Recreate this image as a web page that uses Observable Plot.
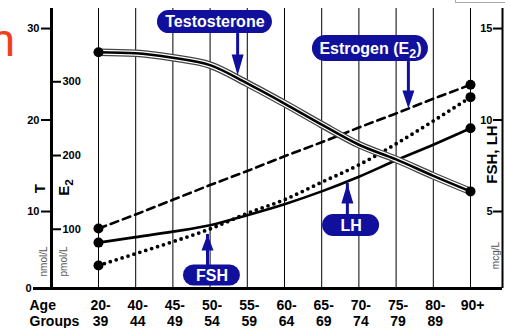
<!DOCTYPE html>
<html><head><meta charset="utf-8">
<script src="https://cdn.jsdelivr.net/npm/d3@7"></script>
<script src="https://cdn.jsdelivr.net/npm/@observablehq/plot@0.6"></script>
<style>
html,body{margin:0;padding:0;background:#fff;}
#chart{position:relative;width:505px;height:328px;overflow:hidden;background:#fff;}
#chart svg{position:absolute;left:0;top:0;}
#scrawl{position:absolute;left:-11px;top:16px;font:47px 'Liberation Sans',Arial,sans-serif;color:#f0401a;line-height:47px;}
#corner{position:absolute;left:455px;top:0;width:50px;height:2px;border-left:1px solid #aaa;border-bottom:1px solid #aaa;}
</style></head><body><div id="chart"><div id="scrawl">n</div><div id="corner"></div></div>
<script>
// ---- data ----
const ageGroups = ["20-39","40-44","45-49","50-54","55-59","60-64","65-69","70-74","75-79","80-89","90+"];
const testosterone = [27.4, 27.3, 26.8, 26.0, 24.0, 21.8, 19.5, 17.3, 15.7, 13.9, 12.2]; // nmol/L
const estrogen = [101, 120, 140, 160, 179, 199, 218, 238, 257, 277, 296];                 // pmol/L
const fsh = [2.05, 2.7, 3.35, 4.05, 4.9, 5.65, 6.6, 7.55, 8.7, 9.95, 11.25];              // mcg/L
const lh  = [3.3, 3.6, 3.9, 4.25, 4.8, 5.4, 6.1, 6.9, 7.8, 8.65, 9.55];                   // mcg/L
const tTicks = [10, 20, 30];
const e2Ticks = [100, 200, 300];
const gonTicks = [5, 10, 15];

// ---- scale conversions onto the shared (nmol/L) vertical scale ----
const E2K = 0.0806;   // pmol/L E2 -> T axis units
const GK = 2;         // mcg/L -> T axis units
const X_MIN = -1.263, X_MAX = 10.86, Y_MIN = 1.585, Y_MAX = 32.19;
const BLUE = "#10109c";
const FONT = "'Liberation Sans', Arial, Helvetica, sans-serif";
const ends = [0, ageGroups.length - 1];

const headDown = L => ({draw(ctx){ctx.moveTo(0,0);ctx.lineTo(-6,-L);ctx.lineTo(6,-L);ctx.closePath();}});
const headUp = L => ({draw(ctx){ctx.moveTo(0,0);ctx.lineTo(-6,L);ctx.lineTo(6,L);ctx.closePath();}});

const callouts = [
  {label:"Testosterone", cx:3.13, cy:30.71, w:115, h:23, ax:3.74, from:29.45, tip:24.86, head:21, dir:"down"},
  {label:"Estrogen (E₂)", cx:7.31, cy:27.81, w:116, h:26, ax:8.33, from:26.39, tip:21.26, head:18, dir:"down"},
  {label:"FSH", cx:3.05, cy:3.01, w:57, h:21, ax:2.93, from:4.10, tip:7.49, head:16, dir:"up"},
  {label:"LH", cx:6.79, cy:8.47, w:57, h:22, ax:6.69, from:9.67, tip:13.06, head:20, dir:"up"}
];

const calloutMarks = callouts.flatMap(c => [
  Plot.ruleX([c], {x:"ax", y1:"from", y2:"tip", stroke:BLUE, strokeWidth:3,
    insetBottom: c.dir === "down" ? c.head/2 : 0, insetTop: c.dir === "up" ? c.head/2 : 0}),
  Plot.dot([c], {x:"ax", y:"tip", r:5, symbol: c.dir === "down" ? headDown(c.head) : headUp(c.head), fill:BLUE, stroke:"none"}),
  Plot.rect([c], {x1:"cx", x2:"cx", y1:"cy", y2:"cy", insetLeft:-c.w/2, insetRight:-c.w/2,
    insetTop:-c.h/2, insetBottom:-c.h/2, rx:c.h/2, fill:BLUE}),
  Plot.text([c], {x:"cx", y:"cy", text:"label", fill:"white", fontSize:16, fontWeight:"bold"})
]);

const idx = (d, i) => i;
const bold = {fontWeight:"bold", fill:"black"};

const plot = Plot.plot({
  width: 505, height: 328,
  marginTop: 8, marginBottom: 40, marginLeft: 51, marginRight: 3,
  x: {domain: [X_MIN, X_MAX], axis: null},
  y: {domain: [Y_MIN, Y_MAX], axis: null},
  style: {fontFamily: FONT, fontSize: "11px", background: "transparent", overflow: "visible"},
  marks: [
    Plot.ruleX(ageGroups, {x: idx, stroke: "black", strokeWidth: 1}),
    Plot.ruleX([X_MIN], {x: d => d, stroke: "black", strokeWidth: 3}),
    Plot.ruleX([X_MAX], {x: d => d, stroke: "black", strokeWidth: 2}),
    Plot.ruleY([Y_MIN], {y: d => d, stroke: "black", strokeWidth: 3}),
    Plot.ruleY(tTicks, {y: d => d, x1: () => X_MIN, x2: () => X_MIN, insetLeft: -10, strokeWidth: 2}),
    Plot.text(tTicks, {y: d => d, x: () => X_MIN, dx: -12, textAnchor: "end", fontSize: 11, ...bold}),
    Plot.ruleY([Y_MIN], {y: d => d, x1: () => X_MIN, x2: () => X_MIN, insetLeft: -18, strokeWidth: 3}),
    Plot.text([0], {y: () => Y_MIN, x: () => X_MIN, dx: -20, textAnchor: "end", fontSize: 11, ...bold}),
    Plot.ruleY(e2Ticks, {y: d => d * E2K, x1: () => X_MIN, x2: () => X_MIN, insetRight: -10, strokeWidth: 2}),
    Plot.text(e2Ticks, {y: d => d * E2K, x: () => X_MIN, dx: 11, textAnchor: "start", fontSize: 11, ...bold}),
    Plot.ruleY(gonTicks, {y: d => d * GK, x1: () => X_MAX, x2: () => X_MAX, insetLeft: -9, strokeWidth: 2}),
    Plot.text(gonTicks, {y: d => d * GK, x: () => X_MAX, dx: -10, textAnchor: "end", fontSize: 11, ...bold}),
    Plot.text(["T"], {x: () => -1.56, y: () => 12.51, rotate: -90, fontSize: 15, ...bold}),
    Plot.text(["E₂"], {x: () => -0.914, y: () => 12.62, rotate: -90, fontSize: 15, ...bold}),
    Plot.text(["nmol/L"], {x: () => -1.478, y: () => 4.54, rotate: -90, fontSize: 10, fill: "#555"}),
    Plot.text(["pmol/L"], {x: () => -0.941, y: () => 4.54, rotate: -90, fontSize: 10, fill: "#555"}),
    Plot.text(["FSH, LH"], {x: () => 10.59, y: () => 16.23, rotate: -90, fontSize: 15, ...bold}),
    Plot.text(["mcg/L"], {x: () => 10.67, y: () => 5.19, rotate: -90, fontSize: 10, fill: "#555"}),
    Plot.text(ageGroups, {x: idx, y: () => Y_MIN, text: d => d.replace("-", "-\n"), lineAnchor: "top",
      dy: 11, dx: 2, lineHeight: 1.1, fontSize: 14, ...bold}),
    Plot.text(["Age\nGroups"], {x: () => X_MIN, y: () => Y_MIN, lineAnchor: "top", textAnchor: "start",
      dy: 11, dx: -22, lineHeight: 1.1, fontSize: 14, ...bold}),
    Plot.line(estrogen, {x: idx, y: d => d * E2K, stroke: "black", strokeWidth: 2.6, strokeDasharray: "8,5"}),
    Plot.line(fsh, {x: idx, y: d => d * GK, curve: "monotone-x", stroke: "black", strokeWidth: 3.8,
      strokeDasharray: "0,6.2", strokeLinecap: "round"}),
    Plot.line(lh, {x: idx, y: d => d * GK, curve: "monotone-x", stroke: "black", strokeWidth: 2.6}),
    Plot.line(testosterone, {x: idx, y: d => d, curve: "monotone-x", stroke: "#444", strokeWidth: 7.5}),
    Plot.line(testosterone, {x: idx, y: d => d, curve: "monotone-x", stroke: "white", strokeWidth: 5}),
    Plot.line(testosterone, {x: idx, y: d => d, curve: "monotone-x", stroke: "black", strokeWidth: 2.6}),
    Plot.dot(ends, {x: i => i, y: i => estrogen[i] * E2K, r: 5, fill: "black"}),
    Plot.dot(ends, {x: i => i, y: i => fsh[i] * GK, r: 5, fill: "black"}),
    Plot.dot(ends, {x: i => i, y: i => lh[i] * GK, r: 5, fill: "black"}),
    Plot.dot(ends, {x: i => i, y: i => testosterone[i], r: 5, fill: "black"}),
    ...calloutMarks
  ]
});
document.getElementById("chart").appendChild(plot);

// render the subscript "2" as a real, larger subscript
d3.select(plot).selectAll("text").filter(function () {
  return this.childElementCount === 0 && this.textContent.includes("₂");
}).each(function () {
  const t = d3.select(this);
  const fs = parseFloat(getComputedStyle(this).fontSize) || 15;
  const parts = this.textContent.split("₂");
  t.text(parts[0]);
  t.append("tspan").attr("dy", fs * 0.28).attr("font-size", fs * 0.78).text("2");
  if (parts[1]) t.append("tspan").attr("dy", -fs * 0.28).text(parts[1]);
});
</script></body></html>
